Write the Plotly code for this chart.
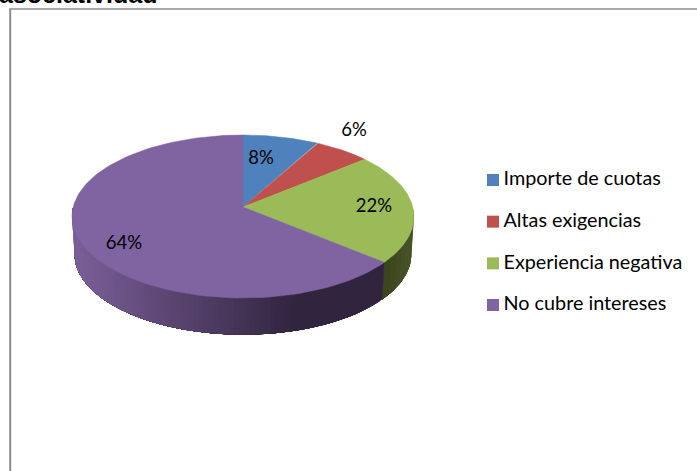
import numpy as np
import plotly.graph_objects as go

# Survey shares, in percent
categories = ["Importe de cuotas", "Altas exigencias", "Experiencia negativa", "No cubre intereses"]
values = [8, 6, 22, 64]
title_text = "asociatividad"

top_colors = ["#4f81bd", "#c0504d", "#9bbb59", "#8064a2"]
side_light = {2: (72, 84, 40), 3: (124, 96, 154)}
side_dark = {2: (58, 68, 30), 3: (48, 36, 62)}

# Pie geometry in pixel units: apex, radii, perspective and extrusion
CX, CY = 243.0, 207.0
RX, RY = 169.8, 80.4
PERSP = 0.1166
DEPTH = 38.0
BOTTOM_SCALE = 0.985

W, H = 697, 471


def project(theta, scale=1.0, drop=0.0):
    """Clockwise-from-top angle (radians) to chart coordinates."""
    u, v = np.sin(theta), np.cos(theta)
    d = 1 + PERSP * v
    return CX + scale * RX * u / d, CY + drop - scale * RY * v / d


fig = go.Figure()

fractions = np.cumsum([0] + values) / sum(values)
edges = 2 * np.pi * fractions


def side_band(a, b, rgb):
    th = np.linspace(a, b, 60)
    x1, y1 = project(th)
    x2, y2 = project(th[::-1], BOTTOM_SCALE, DEPTH)
    fig.add_trace(go.Scatter(
        x=np.r_[x1, x2, x1[0]], y=np.r_[y1, y2, y1[0]],
        mode="lines", fill="toself",
        fillcolor=f"rgb({rgb[0]},{rgb[1]},{rgb[2]})",
        line=dict(width=0),
        hoverinfo="skip", showlegend=False,
    ))


# Extruded wall of the front-facing slices: nested bands painted in order,
# so each colour step has a single edge and nothing shows between steps
for idx in (2, 3):
    start = max(edges[idx], np.pi / 2)
    stop = min(edges[idx + 1], 3 * np.pi / 2)
    steps = 90 if idx == 3 else 10
    grid = np.linspace(start, stop, steps + 1)
    for k in range(steps):
        mid = 0.5 * (grid[k] + grid[k + 1])
        x_mid, _ = project(mid)
        # Light on the left of the wall, darkest towards the right
        t = np.clip((x_mid - 72) / (300 - 72), 0, 1)
        if idx == 2:
            t = 1 - np.clip((x_mid - 384) / 29, 0, 1)
        rgb = [int(side_light[idx][c] + t * (side_dark[idx][c] - side_light[idx][c])) for c in range(3)]
        side_band(grid[k], stop, rgb)

# Top face of every slice
for i, name in enumerate(categories):
    th = np.linspace(edges[i], edges[i + 1], 120)
    x, y = project(th)
    fig.add_trace(go.Scatter(
        x=np.r_[CX, x, CX], y=np.r_[CY, y, CY],
        mode="lines", fill="toself", fillcolor=top_colors[i],
        line=dict(width=0.5, color=top_colors[i]),
        name=name, text=f"{values[i]}%", hoverinfo="name+text", showlegend=False,
    ))

# Percentage labels beside or on their slices
label_x = [261, 354, 374, 124]
label_y = [159.5, 131.5, 207.5, 244.5]
fig.add_trace(go.Scatter(
    x=label_x, y=label_y, mode="text",
    text=[f"{v}%" for v in values], textposition="middle center",
    textfont=dict(family="Lato", size=18.5, color="#000000"),
    hoverinfo="skip", showlegend=False,
))

# Legend column: swatches, then their labels
legend_y = [180 + 41.67 * i for i in range(len(categories))]
fig.add_trace(go.Scatter(
    x=[493] * len(categories), y=legend_y, mode="markers",
    marker=dict(symbol="square", size=12, color=top_colors, line=dict(width=0)),
    hoverinfo="skip", showlegend=False,
))
fig.add_trace(go.Scatter(
    x=[503.5] * len(categories), y=[v + 0.5 for v in legend_y], mode="text",
    text=categories, textposition="middle right",
    textfont=dict(family="Lato", size=19.8, color="#000000"),
    hoverinfo="skip", showlegend=False,
))

fig.update_layout(
    width=W, height=H,
    margin=dict(l=0, r=0, t=0, b=0),
    paper_bgcolor="white", plot_bgcolor="white",
    showlegend=False,
    xaxis=dict(range=[0, W], visible=False, fixedrange=True),
    yaxis=dict(range=[H, 0], visible=False, fixedrange=True),
    shapes=[
        dict(type="line", xref="x", yref="y", x0=10.2, x1=10.2, y0=9, y1=H, line=dict(color="#8c8c8c", width=2)),
        dict(type="line", xref="x", yref="y", x0=9.2, x1=W, y0=9, y1=9, line=dict(color="#8c8c8c", width=1.5)),
    ],
    annotations=[
        dict(text=f"<b>{title_text}</b>", xref="x", yref="y", x=0, y=10, xshift=-3,
             xanchor="left", yanchor="bottom", showarrow=False,
             font=dict(family="Liberation Sans", size=25, color="#000000")),
    ],
)

fig.write_html("out.html")
